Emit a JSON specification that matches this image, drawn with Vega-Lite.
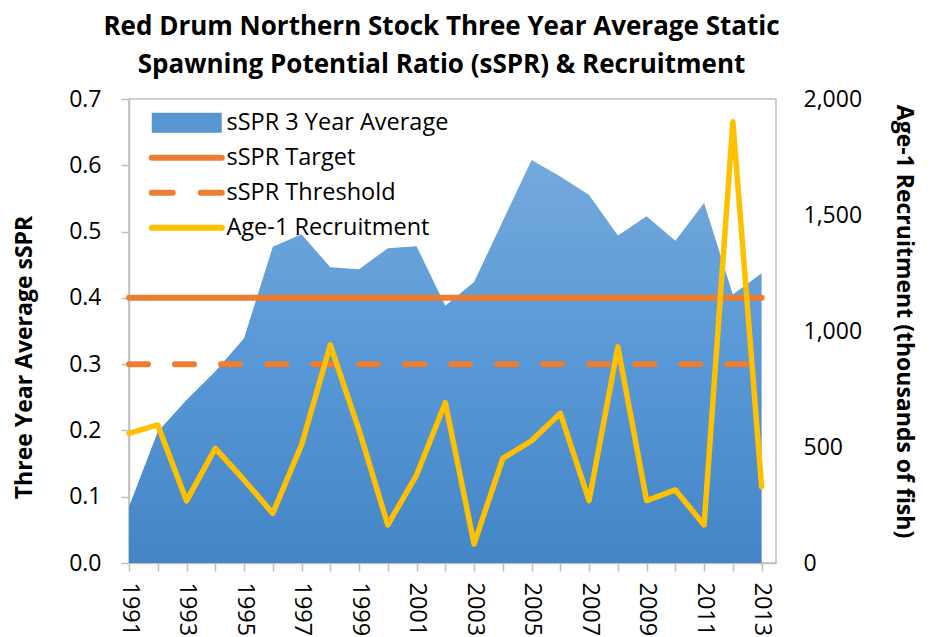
{
  "$schema": "https://vega.github.io/schema/vega-lite/v6.json",
  "autosize": "none",
  "width": 647,
  "height": 464,
  "padding": {"left": 129, "top": 99, "right": 157, "bottom": 74},
  "background": "white",
  "title": {
    "text": ["Red Drum Northern Stock Three Year Average Static", "Spawning Potential Ratio (sSPR) & Recruitment"],
    "font": "Open Sans",
    "fontSize": 26,
    "fontWeight": "bold",
    "color": "#000000",
    "lineHeight": 38,
    "anchor": "middle",
    "frame": "group",
    "dx": -11,
    "offset": 10
  },
  "datasets": {
    "main": [
      {"year": 1991, "sspr": 0.085, "recruit": 559},
      {"year": 1992, "sspr": 0.198, "recruit": 595},
      {"year": 1993, "sspr": 0.246, "recruit": 268},
      {"year": 1994, "sspr": 0.289, "recruit": 494},
      {"year": 1995, "sspr": 0.339, "recruit": 358},
      {"year": 1996, "sspr": 0.477, "recruit": 214},
      {"year": 1997, "sspr": 0.496, "recruit": 509},
      {"year": 1998, "sspr": 0.446, "recruit": 940},
      {"year": 1999, "sspr": 0.443, "recruit": 573},
      {"year": 2000, "sspr": 0.475, "recruit": 164},
      {"year": 2001, "sspr": 0.478, "recruit": 379},
      {"year": 2002, "sspr": 0.388, "recruit": 691},
      {"year": 2003, "sspr": 0.424, "recruit": 82},
      {"year": 2004, "sspr": 0.516, "recruit": 451},
      {"year": 2005, "sspr": 0.608, "recruit": 527},
      {"year": 2006, "sspr": 0.583, "recruit": 645},
      {"year": 2007, "sspr": 0.555, "recruit": 269},
      {"year": 2008, "sspr": 0.494, "recruit": 932},
      {"year": 2009, "sspr": 0.523, "recruit": 269},
      {"year": 2010, "sspr": 0.486, "recruit": 315},
      {"year": 2011, "sspr": 0.543, "recruit": 164},
      {"year": 2012, "sspr": 0.405, "recruit": 1902},
      {"year": 2013, "sspr": 0.437, "recruit": 329}
    ],
    "ref": [
      {"year": 1991, "series": "sSPR Target", "value": 0.4},
      {"year": 2013, "series": "sSPR Target", "value": 0.4},
      {"year": 1991, "series": "sSPR Threshold", "value": 0.3},
      {"year": 2013, "series": "sSPR Threshold", "value": 0.3}
    ]
  },
  "encoding": {
    "x": {
      "field": "year",
      "type": "quantitative",
      "scale": {"domain": [1991, 2013.5], "nice": false, "zero": false},
      "axis": {
        "title": null,
        "grid": false,
        "values": [1991, 1992, 1993, 1994, 1995, 1996, 1997, 1998, 1999, 2000, 2001, 2002, 2003, 2004, 2005, 2006, 2007, 2008, 2009, 2010, 2011, 2012, 2013],
        "labelExpr": "datum.value % 2 == 1 ? format(datum.value, 'd') : ''",
        "labelAngle": 90,
        "labelFontSize": 23.5,
        "labelPadding": 11,
        "tickSize": 8,
        "labelOverlap": false,
        "labelFlush": false
      }
    }
  },
  "layer": [
    {
      "encoding": {
        "y": {
          "type": "quantitative",
          "scale": {"domain": [0, 0.7], "nice": false},
          "axis": {
            "title": "Three Year Average sSPR",
            "orient": "left",
            "grid": false,
            "values": [0, 0.1, 0.2, 0.3, 0.4, 0.5, 0.6, 0.7],
            "format": ".1f",
            "labelFontSize": 23,
            "labelPadding": 20,
            "tickSize": 8,
            "titleFontSize": 23,
            "titleFontWeight": "bold",
            "titleAngle": 270,
            "titleAlign": "center",
            "titleBaseline": "middle",
            "titleX": -105,
            "titleY": 258
          }
        }
      },
      "layer": [
        {
          "data": {"name": "main"},
          "mark": {
            "type": "area",
            "fill": {
              "gradient": "linear",
              "x1": 0, "y1": 0, "x2": 0, "y2": 1,
              "stops": [
                {"offset": 0, "color": "#74A9DC"},
                {"offset": 0.5, "color": "#5898D6"},
                {"offset": 1, "color": "#4485C6"}
              ]
            }
          },
          "encoding": {
            "y": {"field": "sspr", "type": "quantitative"}
          }
        },
        {
          "data": {"name": "ref"},
          "transform": [{"filter": "datum.series === 'sSPR Target'"}],
          "mark": {"type": "line", "strokeWidth": 6, "strokeCap": "round"},
          "encoding": {
            "y": {"field": "value", "type": "quantitative"},
            "color": {
              "field": "series",
              "type": "nominal",
              "scale": {
                "domain": ["sSPR 3 Year Average", "sSPR Target", "sSPR Threshold", "Age-1 Recruitment"],
                "range": ["#5896D3", "#ED7D31", "#ED7D31", "#FFC000"]
              },
              "legend": {
                "orient": "none",
                "legendX": 46,
                "legendY": 12,
                "title": null,
                "padding": 0,
                "labelFont": "Open Sans",
                "labelFontSize": 23.5,
                "labelColor": "#000000",
                "labelOffset": 28,
                "labelLimit": 400,
                "symbolSize": 400,
                "rowPadding": 10,
                "symbolStrokeWidth": 6,
                "encode": {
                  "symbols": {
                    "update": {
                      "shape": {"signal": "datum.value === 'sSPR 3 Year Average' ? 'M-3.5,-1H3.5V1H-3.5Z' : 'M-3.5,0H3.5'"},
                      "fill": {"signal": "datum.value === 'sSPR 3 Year Average' ? '#5896D3' : 'transparent'"},
                      "stroke": {"signal": "datum.value === 'sSPR 3 Year Average' ? 'transparent' : (datum.value === 'Age-1 Recruitment' ? '#FFC000' : '#ED7D31')"},
                      "strokeDash": {"signal": "datum.value === 'sSPR Threshold' ? [21, 28] : [1, 0]"},
                      "strokeWidth": {"signal": "datum.value === 'sSPR 3 Year Average' ? 0 : 6"},
                      "strokeCap": {"value": "round"},
                      "opacity": {"value": 1}
                    }
                  }
                }
              }
            }
          }
        },
        {
          "data": {"name": "ref"},
          "transform": [{"filter": "datum.series === 'sSPR Threshold'"}],
          "mark": {"type": "line", "strokeWidth": 6, "strokeCap": "round", "strokeDash": [19, 27]},
          "encoding": {
            "y": {"field": "value", "type": "quantitative"},
            "color": {"field": "series", "type": "nominal"}
          }
        }
      ]
    },
    {
      "data": {"name": "main"},
      "mark": {"type": "line", "strokeWidth": 5.5, "strokeCap": "round", "strokeJoin": "round"},
      "encoding": {
        "y": {
          "field": "recruit",
          "type": "quantitative",
          "scale": {"domain": [0, 2000], "nice": false},
          "axis": {
            "title": "Age-1 Recruitment (thousands of fish)",
            "orient": "right",
            "grid": false,
            "values": [0, 500, 1000, 1500, 2000],
            "format": ",d",
            "ticks": false,
            "domain": false,
            "labelFontSize": 23,
            "labelPadding": 27,
            "titleFontSize": 23,
            "titleFontWeight": "bold",
            "titleAngle": 90,
            "titleAlign": "center",
            "titleBaseline": "middle",
            "titleX": 127,
            "titleY": 222
          }
        },
        "color": {"datum": "Age-1 Recruitment"}
      }
    }
  ],
  "resolve": {"scale": {"y": "independent"}},
  "config": {
    "view": {"stroke": "#BFBFBF", "strokeWidth": 1.5},
    "axis": {
      "labelFont": "Open Sans",
      "labelColor": "#000000",
      "titleFont": "Open Sans",
      "titleColor": "#000000",
      "domainColor": "#BFBFBF",
      "domainWidth": 1.5,
      "tickColor": "#BFBFBF",
      "tickWidth": 1.5
    }
  }
}
